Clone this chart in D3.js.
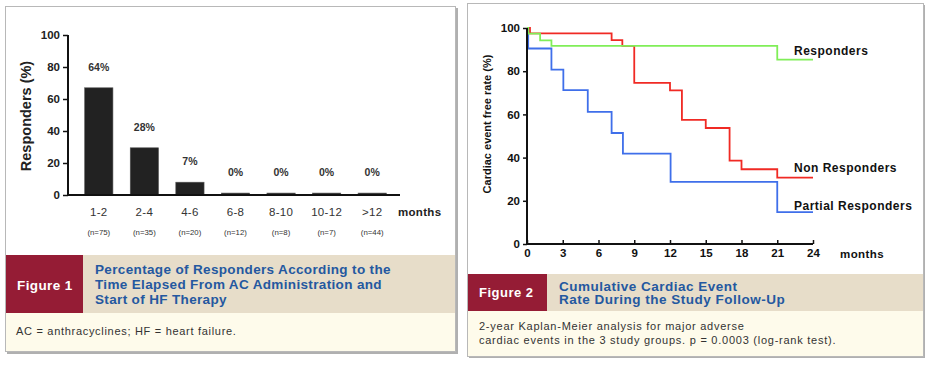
<!DOCTYPE html>
<html><head><meta charset="utf-8">
<script src="https://cdn.jsdelivr.net/npm/d3@7"></script>
<style>body{margin:0;background:#fff;}svg{display:block;font-family:"Liberation Sans",Arial,sans-serif;}</style>
</head><body>
<svg id="c" width="932" height="366"></svg>
<script>
// ---- Figure 1 data ----
const categories = ["1-2","2-4","4-6","6-8","8-10","10-12",">12"];
const responderValues = [67, 29.5, 8, 1.2, 1.2, 1.2, 1.2];
const barLabels = ["64%","28%","7%","0%","0%","0%","0%"];
const nLabels = ["(n=75)","(n=35)","(n=20)","(n=12)","(n=8)","(n=7)","(n=44)"];
const yTicks1 = [0,20,40,60,80,100];

// ---- Figure 2 data (Kaplan-Meier steps: [month, survival %]) ----
const respondersSteps = [[0,100],[0.1,97.4],[1.1,94.3],[2.05,91.7],[21,85.4],[24,85.4]];
const nonRespondersSteps = [[0,100],[0.25,97.5],[7.1,94.4],[8,91.7],[9,74.6],[12,71.1],[13,57.5],[15,53.7],[17,38.6],[18,34.6],[21,30.7],[24,30.7]];
const partialSteps = [[0,100],[0.1,90.5],[2.05,80.7],[3.05,71.2],[5.1,61.2],[7.1,51.4],[8.05,41.8],[12.05,28.8],[21,14.8],[24,14.8]];
const seriesNames = ["Responders","Non Responders","Partial Responders"];
const xTicks2 = [0,3,6,9,12,15,18,21,24];
const yTicks2 = [0,20,40,60,80,100];

const svg = d3.select("#c");

// ================= Panel 1 =================
const p1 = svg.append("g");
p1.append("rect").attr("x",7).attr("y",8).attr("width",451).attr("height",346).attr("fill","#b0b0b0");
p1.append("rect").attr("x",5.5).attr("y",6.5).attr("width",450).attr("height",345).attr("fill","#fff").attr("stroke","#b8b8b8").attr("stroke-width",1);
p1.append("rect").attr("x",6).attr("y",255).attr("width",449).attr("height",58).attr("fill","#e7ddc9");
p1.append("rect").attr("x",6).attr("y",255).attr("width",77).attr("height",58).attr("fill","#951c35");
p1.append("rect").attr("x",6).attr("y",313).attr("width",449).attr("height",38).attr("fill","#fefbeb");
p1.append("text").attr("x",17).attr("y",290).attr("fill","#fff").attr("font-size",13.5).attr("font-weight","bold").attr("letter-spacing",0.4).text("Figure 1");
const t1 = ["Percentage of Responders According to the","Time Elapsed From AC Administration and","Start of HF Therapy"];
t1.forEach((s,i)=>p1.append("text").attr("x",95).attr("y",274+i*15).attr("fill","#2458a0").attr("font-size",13.5).attr("font-weight","bold").attr("letter-spacing",0.35).text(s));
p1.append("text").attr("x",16).attr("y",334.5).attr("fill","#333").attr("font-size",11).attr("letter-spacing",0.7).text("AC = anthracyclines; HF = heart failure.");

const x1 = d3.scaleBand().domain(categories).range([71,400]).paddingInner(0.38).paddingOuter(0.3);
const y1 = d3.scaleLinear().domain([0,100]).range([195,35]);
const g1 = p1.append("g");
g1.selectAll("rect.bar").data(categories).enter().append("rect").attr("class","bar")
  .attr("x",d=>x1(d)).attr("width",x1.bandwidth())
  .attr("y",(d,i)=>y1(responderValues[i])).attr("height",(d,i)=>y1(0)-y1(responderValues[i]))
  .attr("fill","#222").attr("stroke","#555").attr("stroke-width",0.6);
const yAx1 = g1.append("g").attr("transform","translate(68,0)")
  .call(d3.axisLeft(y1).tickValues(yTicks1).tickSize(5).tickPadding(3));
yAx1.select(".domain").attr("stroke","#111").attr("stroke-width",2).attr("d","M0,35V195");
yAx1.selectAll(".tick line").attr("stroke","#111").attr("stroke-width",1.5);
yAx1.selectAll(".tick text").attr("font-size",11.5).attr("font-weight","bold").attr("fill","#222").attr("font-family","Liberation Sans, Arial");
g1.append("line").attr("x1",67).attr("x2",400).attr("y1",195).attr("y2",195).attr("stroke","#111").attr("stroke-width",2);
g1.selectAll("text.cat").data(categories).enter().append("text").attr("class","cat")
  .attr("x",d=>x1(d)+x1.bandwidth()/2).attr("y",216).attr("text-anchor","middle").attr("font-size",11.5).attr("letter-spacing",0.3).attr("fill","#333").text(d=>d);
g1.selectAll("text.n").data(nLabels).enter().append("text").attr("class","n")
  .attr("x",(d,i)=>x1(categories[i])+x1.bandwidth()/2).attr("y",234.5).attr("text-anchor","middle").attr("font-size",7.8).attr("fill","#333").text(d=>d);
g1.selectAll("text.pct").data(barLabels).enter().append("text").attr("class","pct")
  .attr("x",(d,i)=>x1(categories[i])+x1.bandwidth()/2).attr("y",(d,i)=>y1(responderValues[i])-17).attr("text-anchor","middle")
  .attr("font-size",10.5).attr("font-weight","bold").attr("fill","#333").text(d=>d);
g1.append("text").attr("x",398).attr("y",216).attr("font-size",11.5).attr("font-weight","bold").attr("letter-spacing",0.3).attr("fill","#222").text("months");
g1.append("text").attr("transform","translate(31,116) rotate(-90)").attr("text-anchor","middle").attr("font-size",14.5).attr("font-weight","bold").attr("fill","#222").text("Responders (%)");

// ================= Panel 2 =================
const p2 = svg.append("g");
p2.append("rect").attr("x",469).attr("y",5).attr("width",456).attr("height",353).attr("fill","#b0b0b0");
p2.append("rect").attr("x",467.5).attr("y",3.5).attr("width",456).attr("height",353).attr("fill","#fff").attr("stroke","#b8b8b8").attr("stroke-width",1);
p2.append("rect").attr("x",468).attr("y",274).attr("width",455).attr("height",37).attr("fill","#e7ddc9");
p2.append("rect").attr("x",468).attr("y",274).attr("width",79).attr("height",37).attr("fill","#951c35");
p2.append("rect").attr("x",468).attr("y",311).attr("width",455).attr("height",45).attr("fill","#fefbeb");
p2.append("text").attr("x",479).attr("y",297).attr("fill","#fff").attr("font-size",13).attr("font-weight","bold").attr("letter-spacing",0.5).text("Figure 2");
["Cumulative Cardiac Event","Rate During the Study Follow-Up"].forEach((s,i)=>p2.append("text").attr("x",559).attr("y",290.5+i*13.5).attr("fill","#2458a0").attr("font-size",13.5).attr("font-weight","bold").attr("letter-spacing",0.5).text(s));
["2-year Kaplan-Meier analysis for major adverse","cardiac events in the 3 study groups. p = 0.0003 (log-rank test)."].forEach((s,i)=>p2.append("text").attr("x",479).attr("y",330+i*13.5).attr("fill","#333").attr("font-size",11).attr("letter-spacing",0.75).text(s));

const x2 = d3.scaleLinear().domain([0,24]).range([527,813]);
const y2 = d3.scaleLinear().domain([0,100]).range([244,28]);
const g2 = p2.append("g");
const line = d3.line().x(d=>x2(d[0])).y(d=>y2(d[1])).curve(d3.curveStepAfter);
const seriesData = [nonRespondersSteps, partialSteps, respondersSteps];
const seriesColors = ["#f02a24","#3f6fea","#80ee58"];
seriesData.forEach((s,i)=>g2.append("path").attr("d",line(s)).attr("fill","none").attr("stroke",seriesColors[i]).attr("stroke-width",1.8));
const yAx2 = g2.append("g").attr("transform","translate(527,0)")
  .call(d3.axisLeft(y2).tickValues(yTicks2).tickSize(4).tickPadding(3));
yAx2.select(".domain").attr("stroke","#111").attr("stroke-width",2).attr("d","M0,28V244");
yAx2.selectAll(".tick line").attr("stroke","#111").attr("stroke-width",1.5);
yAx2.selectAll(".tick text").attr("font-size",11.5).attr("font-weight","bold").attr("fill","#111").attr("font-family","Liberation Sans, Arial");
const xAx2 = g2.append("g").attr("transform","translate(0,244)")
  .call(d3.axisBottom(x2).tickValues(xTicks2).tickSize(4).tickPadding(1));
xAx2.select(".domain").attr("stroke","#111").attr("stroke-width",2).attr("d","M527,0H813");
xAx2.selectAll(".tick line").attr("stroke","#111").attr("stroke-width",1.5).attr("y1",-4).attr("y2",0);
xAx2.selectAll(".tick text").attr("font-size",11.5).attr("font-weight","bold").attr("fill","#111").attr("font-family","Liberation Sans, Arial");
g2.append("text").attr("x",840).attr("y",258).attr("font-size",11.5).attr("font-weight","bold").attr("letter-spacing",0.4).attr("fill","#111").text("months");
g2.append("text").attr("transform","translate(491,124) rotate(-90)").attr("text-anchor","middle").attr("font-size",11).attr("font-weight","bold").attr("fill","#111").text("Cardiac event free rate (%)");
const legendYs = [55, 172, 210];
seriesNames.forEach((s,i)=>g2.append("text").attr("x",794).attr("y",legendYs[i]).attr("font-size",12).attr("font-weight","bold").attr("letter-spacing",0.5).attr("fill","#111").text(s));
</script>
</body></html>
